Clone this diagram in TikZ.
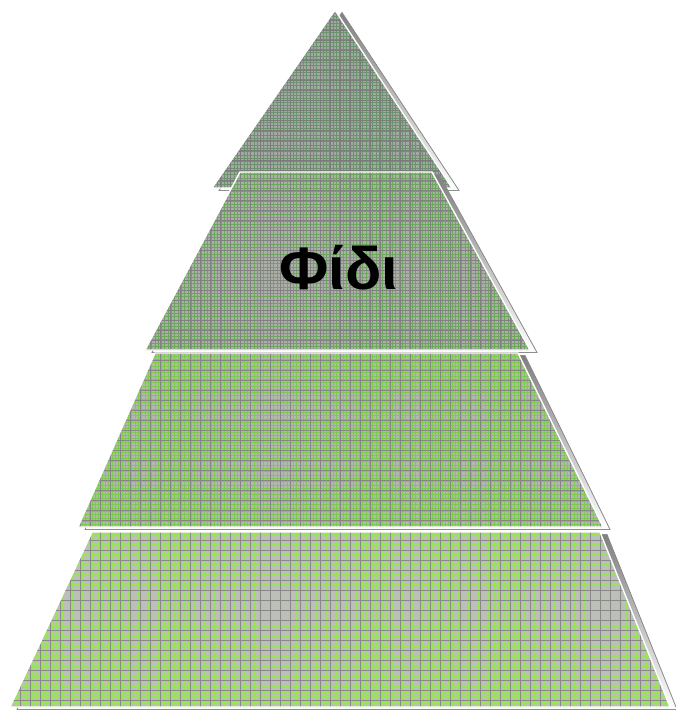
\documentclass[tikz,border=0pt]{standalone}
\usepackage{fontspec}
\setmainfont{Liberation Sans}
\definecolor{baseA}{HTML}{A2A8A2}
\definecolor{fineA}{HTML}{6A946C}
\definecolor{coarseA}{HTML}{7A7C7A}
\definecolor{baseB}{HTML}{AAB0A6}
\definecolor{fineB}{HTML}{6AA85A}
\definecolor{coarseB}{HTML}{808080}
\definecolor{baseC}{HTML}{B4B9B0}
\definecolor{fineC}{HTML}{7CCB4A}
\definecolor{coarseC}{HTML}{858585}
\definecolor{baseD}{HTML}{BCBEB8}
\definecolor{fineD}{HTML}{9AE458}
\definecolor{coarseD}{HTML}{888888}
\definecolor{shade}{HTML}{B4B4B4}
\definecolor{shadeedge}{HTML}{8E8E8E}
\newcommand\pyrlayer[4]{%
  \filldraw[shade,draw=shadeedge,line width=0.8pt,shift={(7,2.5)}] #1 -- cycle;
  \begin{scope}
    \clip #1 -- cycle;
    \fill[#2] (0,0) rectangle (676,711);
    \foreach \k in {3,6.3,...,712} {
      \draw[#3,fineline] (\k,0) -- (\k,711);
      \draw[#3,fineline] (0,\k) -- (676,\k);
    }
    \foreach \k in {0,10,...,710} {
      \draw[#4,coarseline] (\k,0) -- (\k,711);
      \draw[#4,coarseline] (0,\k) -- (676,\k);
    }
  \end{scope}
  \draw[edgeline] #1 -- cycle;
}
\begin{document}
\begin{tikzpicture}[x=1pt,y=-1pt,
  fineline/.style={line width=0.55pt},
  coarseline/.style={line width=0.9pt},
  edgeline/.style={white,line width=1.4pt,line join=miter}]
\useasboundingbox (0,0) rectangle (676,711);
\pyrlayer{(335,10) -- (452,188) -- (212,188)}{baseA}{fineA}{coarseA}
\pyrlayer{(240,172) -- (432,172) -- (530,350) -- (145,350)}{baseB}{fineB}{coarseB}
\pyrlayer{(155,353) -- (518,353) -- (603,527) -- (78,527)}{baseC}{fineC}{coarseC}
\pyrlayer{(92,532) -- (600,532) -- (670,707) -- (10,707)}{baseD}{fineD}{coarseD}
\node (label) at (339,268) {\fontsize{60}{60}\selectfont\bfseries Φίδι};
\end{tikzpicture}
\end{document}
